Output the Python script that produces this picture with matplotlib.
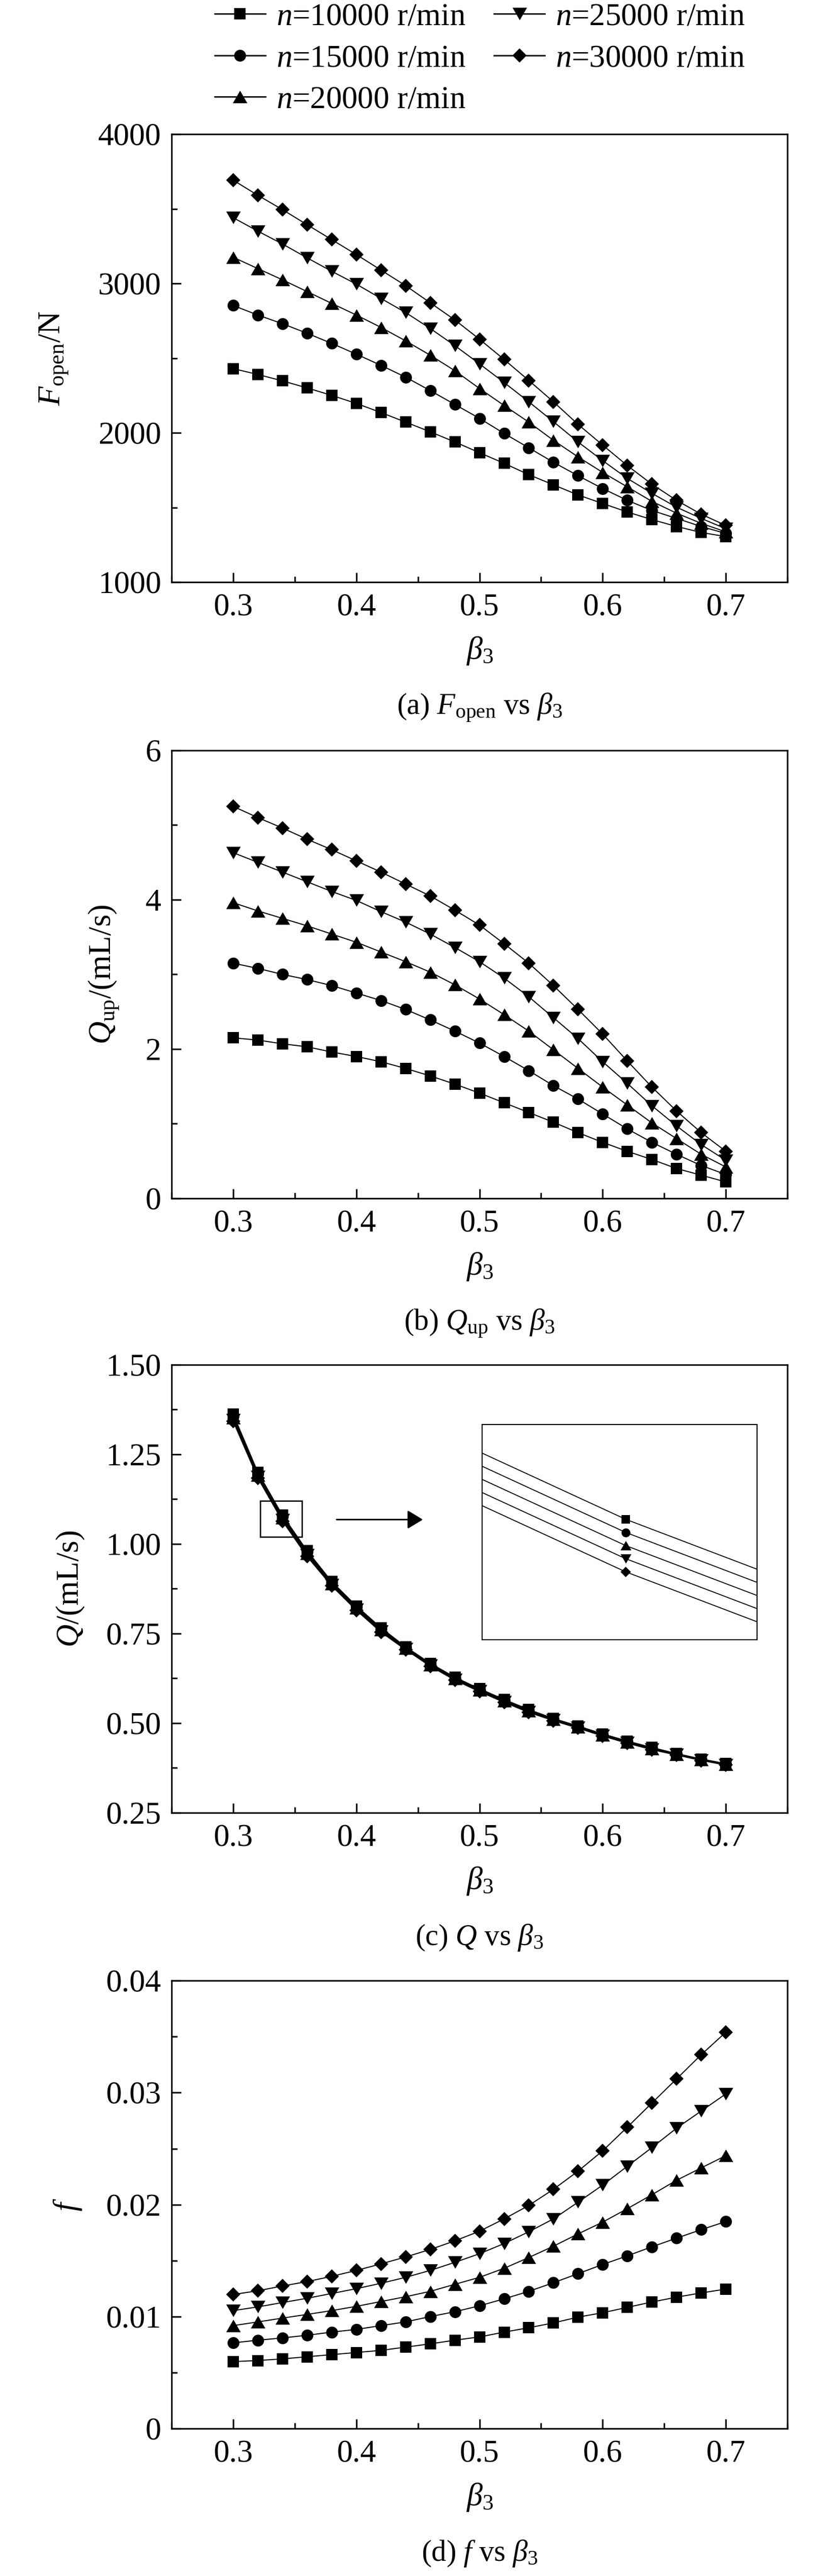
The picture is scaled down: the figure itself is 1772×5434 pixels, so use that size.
import matplotlib
matplotlib.use("Agg")
import matplotlib.pyplot as plt
from matplotlib.patches import Rectangle
from matplotlib.ticker import MultipleLocator

plt.rcParams['font.family'] = ['Liberation Serif', 'DejaVu Serif']
plt.rcParams['mathtext.fontset'] = 'custom'
plt.rcParams['mathtext.rm'] = 'Liberation Serif'
plt.rcParams['mathtext.it'] = 'Liberation Serif:italic'
plt.rcParams['font.size'] = 24

# data
beta3 = [0.30, 0.32, 0.34, 0.36, 0.38, 0.40, 0.42, 0.44, 0.46, 0.48, 0.50,
         0.52, 0.54, 0.56, 0.58, 0.60, 0.62, 0.64, 0.66, 0.68, 0.70]
speeds = ['10000', '15000', '20000', '25000', '30000']

# F_open / N   (rows: n = 10000 ... 30000 r/min)
f_open = [
    [2430, 2391, 2348, 2301, 2251, 2197, 2136, 2072, 2007, 1939, 1867, 1796, 1720, 1652, 1584, 1527, 1470, 1419, 1373, 1333, 1305],
    [2853, 2789, 2731, 2667, 2599, 2527, 2452, 2373, 2283, 2190, 2097, 1996, 1900, 1803, 1713, 1627, 1548, 1480, 1427, 1373, 1326],
    [3176, 3100, 3025, 2946, 2867, 2789, 2706, 2616, 2520, 2416, 2297, 2183, 2072, 1950, 1839, 1735, 1638, 1541, 1462, 1394, 1337],
    [3441, 3351, 3265, 3172, 3082, 2996, 2900, 2806, 2699, 2584, 2462, 2337, 2208, 2075, 1939, 1814, 1695, 1595, 1502, 1427, 1358],
    [3692, 3591, 3495, 3394, 3294, 3194, 3090, 2986, 2871, 2756, 2627, 2491, 2351, 2208, 2057, 1918, 1781, 1656, 1548, 1455, 1380],
]

# Q_up / (mL/s)
q_up = [
    [2.15, 2.12, 2.07, 2.03, 1.96, 1.90, 1.83, 1.74, 1.64, 1.53, 1.41, 1.28, 1.15, 1.02, 0.88, 0.75, 0.63, 0.52, 0.40, 0.31, 0.22],
    [3.15, 3.08, 3.00, 2.93, 2.85, 2.75, 2.65, 2.53, 2.39, 2.24, 2.08, 1.90, 1.71, 1.51, 1.33, 1.13, 0.93, 0.75, 0.59, 0.44, 0.32],
    [3.96, 3.85, 3.75, 3.65, 3.54, 3.43, 3.30, 3.17, 3.03, 2.86, 2.67, 2.46, 2.24, 1.99, 1.74, 1.49, 1.25, 1.01, 0.80, 0.59, 0.42],
    [4.63, 4.50, 4.37, 4.24, 4.11, 3.99, 3.84, 3.70, 3.54, 3.36, 3.17, 2.95, 2.70, 2.42, 2.14, 1.83, 1.54, 1.24, 0.97, 0.72, 0.51],
    [5.25, 5.10, 4.96, 4.81, 4.67, 4.52, 4.37, 4.21, 4.05, 3.86, 3.66, 3.41, 3.15, 2.85, 2.53, 2.20, 1.84, 1.49, 1.17, 0.88, 0.63],
]

# Q / (mL/s)
q_leak = [
    [1.362, 1.200, 1.080, 0.981, 0.895, 0.827, 0.766, 0.713, 0.667, 0.628, 0.596, 0.566, 0.538, 0.513, 0.492, 0.470, 0.450, 0.432, 0.415, 0.400, 0.387],
    [1.357, 1.196, 1.076, 0.977, 0.892, 0.824, 0.763, 0.711, 0.665, 0.626, 0.594, 0.564, 0.536, 0.5115, 0.4905, 0.4685, 0.4485, 0.4305, 0.414, 0.399, 0.386],
    [1.352, 1.192, 1.072, 0.973, 0.889, 0.821, 0.760, 0.709, 0.663, 0.624, 0.592, 0.562, 0.534, 0.510, 0.489, 0.467, 0.447, 0.429, 0.413, 0.398, 0.385],
    [1.347, 1.188, 1.068, 0.969, 0.886, 0.818, 0.757, 0.707, 0.661, 0.622, 0.590, 0.560, 0.532, 0.5085, 0.4875, 0.4655, 0.4455, 0.4275, 0.412, 0.397, 0.384],
    [1.342, 1.184, 1.064, 0.965, 0.883, 0.815, 0.754, 0.705, 0.659, 0.620, 0.588, 0.558, 0.530, 0.507, 0.486, 0.464, 0.444, 0.426, 0.411, 0.396, 0.383],
]

# friction coefficient f
f_coef = [
    [0.00599, 0.00608, 0.00623, 0.00642, 0.00661, 0.00680, 0.00699, 0.00728, 0.00757, 0.00790, 0.00819, 0.00862, 0.00901, 0.00944, 0.00996, 0.01035, 0.01083, 0.01131, 0.01174, 0.01212, 0.01246],
    [0.00766, 0.00790, 0.00810, 0.00834, 0.00862, 0.00886, 0.00920, 0.00953, 0.01001, 0.01044, 0.01097, 0.01159, 0.01226, 0.01303, 0.01384, 0.01466, 0.01543, 0.01624, 0.01701, 0.01777, 0.01849],
    [0.00920, 0.00953, 0.00987, 0.01020, 0.01054, 0.01092, 0.01135, 0.01178, 0.01226, 0.01289, 0.01351, 0.01432, 0.01528, 0.01629, 0.01739, 0.01844, 0.01964, 0.02089, 0.02218, 0.02328, 0.02438],
    [0.01054, 0.01087, 0.01126, 0.01164, 0.01207, 0.01250, 0.01298, 0.01351, 0.01413, 0.01485, 0.01562, 0.01653, 0.01758, 0.01873, 0.02022, 0.02175, 0.02343, 0.02510, 0.02683, 0.02836, 0.02989],
    [0.01198, 0.01231, 0.01274, 0.01313, 0.01360, 0.01413, 0.01471, 0.01533, 0.01600, 0.01677, 0.01763, 0.01873, 0.01993, 0.02137, 0.02299, 0.02481, 0.02692, 0.02908, 0.03123, 0.03339, 0.03540],
]

x_ticks = [0.3, 0.4, 0.5, 0.6, 0.7]
x_labels = ['0.3', '0.4', '0.5', '0.6', '0.7']
fopen_ticks = [1000, 2000, 3000, 4000]
fopen_labels = ['1000', '2000', '3000', '4000']
qup_ticks = [0, 2, 4, 6]
qup_labels = ['0', '2', '4', '6']
q_ticks = [0.25, 0.50, 0.75, 1.00, 1.25, 1.50]
q_labels = ['0.25', '0.50', '0.75', '1.00', '1.25', '1.50']
f_ticks = [0, 0.01, 0.02, 0.03, 0.04]
f_labels = ['0', '0.01', '0.02', '0.03', '0.04']

tri_up = [(-1, -0.866), (1, -0.866), (0, 0.866)]
tri_down = [(-1, 0.866), (1, 0.866), (0, -0.866)]
markers = ['s', 'o', tri_up, tri_down, 'D']
msizes = [8.6, 9.0, 11.0, 11.0, 7.4]

fig = plt.figure(figsize=(8.86, 27.17), dpi=200)

L, W, H = 0.2043, 0.7331, 0.1739
bottoms = [0.7740, 0.5348, 0.2963, 0.0572]


def style_axes(ax, yticks, ylabels, ylim, yminor, ylabel, ylab_x, caption):
    ax.set_xlim(0.25, 0.75)
    ax.set_ylim(*ylim)
    ax.set_xticks(x_ticks, x_labels)
    ax.set_yticks(yticks, ylabels)
    ax.xaxis.set_minor_locator(MultipleLocator(0.05))
    ax.yaxis.set_minor_locator(MultipleLocator(yminor))
    ax.tick_params(which='both', direction='in', width=1.2, top=False, right=False)
    ax.tick_params(which='major', length=7.2)
    ax.tick_params(which='minor', length=4.3)
    ax.tick_params(axis='x', pad=8.5)
    ax.tick_params(axis='y', pad=8)
    for s in ax.spines.values():
        s.set_linewidth(1.2)
    ax.set_xlabel(r'$\beta_3$')
    ax.xaxis.set_label_coords(0.5, -0.118)
    ax.set_ylabel(ylabel)
    ax.yaxis.set_label_coords(ylab_x, 0.5)
    ax.text(0.5, -0.279, caption, transform=ax.transAxes, ha='center', va='center',
            fontsize=22.5)


def draw_series(ax, rows, lw=0.8):
    lines = []
    for i, vals in enumerate(rows):
        ln, = ax.plot(beta3, vals, color='black', lw=lw, marker=markers[i],
                      markersize=msizes[i], markeredgewidth=0,
                      label='$n$=' + speeds[i] + ' r/min')
        lines.append(ln)
    return lines


# (a)
ax_a = fig.add_axes([L, bottoms[0], W, H])
handles = draw_series(ax_a, f_open)
style_axes(ax_a, fopen_ticks, fopen_labels, (1000, 4000), 500,
           r'$F_{\mathrm{open}}$/N', -0.165, r'(a) $F_{\mathrm{open}}$ vs $\beta_3$')

# (b)
ax_b = fig.add_axes([L, bottoms[1], W, H])
draw_series(ax_b, q_up)
style_axes(ax_b, qup_ticks, qup_labels, (0, 6), 1,
           r'$Q_{\mathrm{up}}$/(mL/s)', -0.082, r'(b) $Q_{\mathrm{up}}$ vs $\beta_3$')

# (c) with zoomed inset
ax_c = fig.add_axes([L, bottoms[2], W, H])
draw_series(ax_c, q_leak)
style_axes(ax_c, q_ticks, q_labels, (0.25, 1.50), 0.125,
           r'$Q$/(mL/s)', -0.139, r'(c) $Q$ vs $\beta_3$')
ax_c.add_patch(Rectangle((0.322, 1.02), 0.034, 0.10, fill=False, lw=1.0, ec='black'))
ax_c.annotate('', xy=(0.454, 1.068), xytext=(0.384, 1.068),
              arrowprops=dict(arrowstyle='-|>,head_length=0.33,head_width=0.2',
                              lw=1.2, color='black', mutation_scale=30,
                              shrinkA=0, shrinkB=0))
axin = ax_c.inset_axes([0.504, 0.386, 0.4465, 0.481])
for i, vals in enumerate(q_leak):
    axin.plot(beta3, vals, color='black', lw=0.7, marker=markers[i],
              markersize=msizes[i] * 0.75, markeredgewidth=0, markevery=[2])
axin.set_xlim(0.33664, 0.34307)
axin.set_ylim(1.0433, 1.1089)
axin.set_xticks([])
axin.set_yticks([])
for s in axin.spines.values():
    s.set_linewidth(0.8)

# (d)
ax_d = fig.add_axes([L, bottoms[3], W, H])
draw_series(ax_d, f_coef)
style_axes(ax_d, f_ticks, f_labels, (0, 0.04), 0.005,
           r'$f$', -0.143, r'(d) $f$ vs $\beta_3$')

leg = fig.legend(handles=handles, ncol=2, loc='upper left', bbox_to_anchor=(0.2556, 0.9990),
                 frameon=False, borderpad=0, borderaxespad=0, handlelength=1.6,
                 handletextpad=0.35, columnspacing=0.9, labelspacing=0.4, fontsize=24)
for h in leg.legend_handles:
    h.set_linewidth(1.1)

fig.savefig('out.png', dpi=200)
